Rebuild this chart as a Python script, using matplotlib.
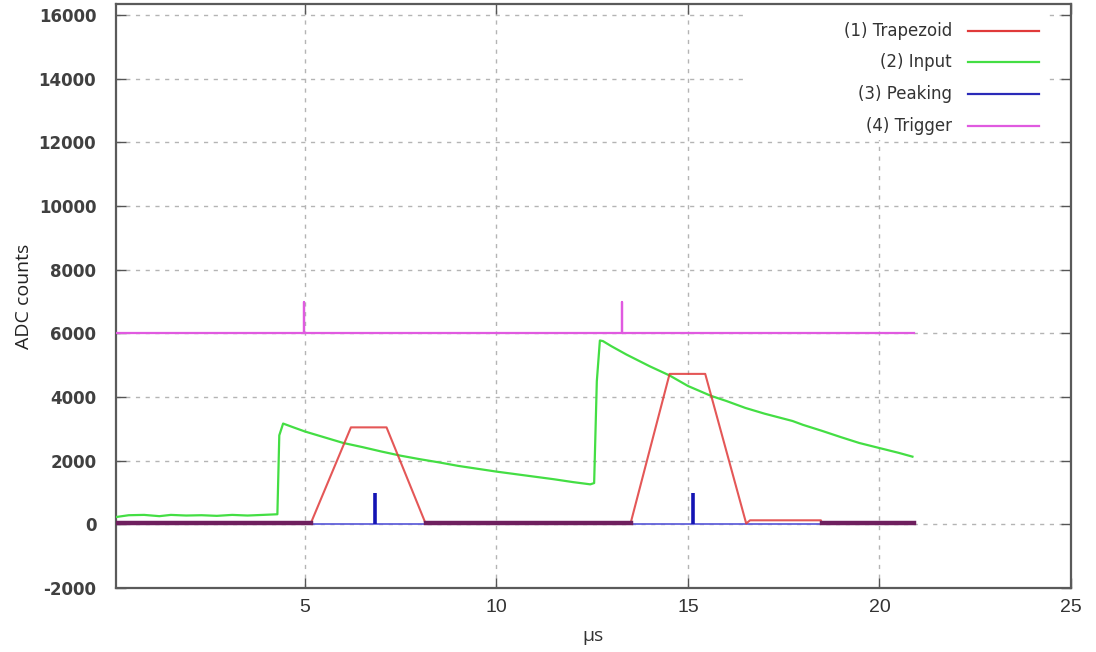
import matplotlib
matplotlib.use("Agg")
import matplotlib.pyplot as plt
import numpy as np
from matplotlib.patches import Rectangle

plt.rcParams['axes.unicode_minus'] = False

# (1) Trapezoid filter output
trap_t = [0.05, 5.15, 6.2, 7.13, 8.15, 13.5, 14.52, 15.45, 16.52, 16.62, 18.47, 18.5, 20.9]
trap_v = [30, 30, 3050, 3050, 30, 30, 4730, 4730, 30, 130, 130, 30, 30]

# (2) Input signal
input_t = [0.05, 0.4, 0.8, 1.2, 1.5, 1.9, 2.3, 2.7, 3.1, 3.5, 3.9, 4.28, 4.33, 4.43,
           4.7, 5.0, 5.5, 6.0, 6.5, 7.0, 7.5, 8.0, 8.5, 9.0, 9.5, 10.0, 10.5, 11.0,
           11.5, 12.0, 12.45, 12.55, 12.62, 12.7, 12.78, 13.0, 13.39, 14.0, 14.52,
           15.0, 15.6, 16.0, 16.5, 17.0, 17.73, 18.0, 18.5, 19.0, 19.47, 20.0, 20.5, 20.86]
input_v = [230, 290, 300, 260, 300, 280, 290, 270, 300, 280, 300, 320, 2800, 3170,
           3050, 2920, 2740, 2560, 2430, 2290, 2160, 2050, 1950, 1840, 1750, 1660, 1580, 1500,
           1420, 1330, 1260, 1300, 4500, 5780, 5760, 5600, 5340, 4970, 4680,
           4350, 4040, 3880, 3660, 3480, 3250, 3130, 2940, 2740, 2560, 2400, 2250, 2130]

# (3) Peaking
peak_base_t = [0.05, 20.9]
peak_base_v = [0, 0]
peak_t = [6.82, 15.13]
peak_v = [1000, 1000]

# (4) Trigger
trig_t = [0.05, 4.98, 4.98, 4.98, 13.29, 13.29, 13.29, 20.9]
trig_v = [6000, 6000, 7000, 6000, 6000, 7000, 6000, 6000]

labels = ["(1) Trapezoid", "(2) Input", "(3) Peaking", "(4) Trigger"]
colors = ["#e03a3a", "#44de44", "#2a2ab8", "#e05ae0"]

x_ticks = [5, 10, 15, 20, 25]
y_ticks = list(range(-2000, 16001, 2000))

fig = plt.figure(figsize=(10.96, 6.52), dpi=100)
ax = fig.add_axes([0.1056, 0.098, 0.8716, 0.8958])

# grid
ax.set_axisbelow(True)
ax.grid(True, color="#b4b4b4", linestyle=(0, (3, 4)), linewidth=1)

# traces
ax.plot(trig_t, trig_v, color=colors[3], linewidth=1.6, zorder=3)
ax.plot(input_t, input_v, color=colors[1], linewidth=1.6, zorder=3)
ax.plot(peak_base_t, peak_base_v, color="#6262da", linewidth=1.3, zorder=3)
ax.vlines(peak_t, 0, peak_v, color="#1414b4", linewidth=2.6, zorder=3)
ax.plot(trap_t, trap_v, color=colors[0], linewidth=1.5, alpha=0.85, zorder=4)
# where trapezoid sits on the baseline it overlaps the peaking trace -> dark purple
trap_arr = np.array(trap_v, dtype=float)
ax.plot(trap_t, np.where(trap_arr < 100, trap_arr, np.nan), color="#6e1f5e",
        linewidth=3.2, zorder=4)

ax.set_xlim(0.06, 25)
ax.set_ylim(-2000, 16350)
ax.set_xticks(x_ticks)
ax.set_yticks(y_ticks)
ax.tick_params(direction="in", length=7, width=1, color="#555555",
               top=True, right=True)
for lab in ax.get_yticklabels():
    lab.set_fontfamily("DejaVu Sans")
    lab.set_fontweight("bold")
    lab.set_fontsize(12)
    lab.set_color("#404040")
for lab in ax.get_xticklabels():
    lab.set_fontfamily(["Liberation Sans Narrow", "Liberation Sans", "DejaVu Sans"])
    lab.set_fontsize(14)
    lab.set_color("#333333")
ax.tick_params(axis="y", pad=14)
ax.tick_params(axis="x", pad=8)

for s in ax.spines.values():
    s.set_color("#5a5a5a")
    s.set_linewidth(1.6)

ax.set_xlabel("µs", fontsize=14, family=["Open Sans", "DejaVu Sans"], color="#333333", labelpad=8)
ax.set_ylabel("ADC counts", fontsize=14, family=["Open Sans", "DejaVu Sans"], color="#222222", labelpad=4)

# legend box, gnuplot style: text right aligned, sample line on the right
ax.add_patch(Rectangle((0.659, 0.767), 0.318, 0.232, transform=ax.transAxes,
                       facecolor="white", edgecolor="none", zorder=1))
rows = [0.9538, 0.9007, 0.8459, 0.7911]
for lbl, c, yy in zip(labels, colors, rows):
    ax.text(0.8755, yy, lbl, transform=ax.transAxes, ha="right", va="center",
            fontsize=12, family="DejaVu Sans", color="#333333", zorder=5)
    ax.plot([0.892, 0.967], [yy, yy], transform=ax.transAxes, color=c,
            linewidth=1.6, zorder=5)

fig.savefig("out.png", dpi=100)
